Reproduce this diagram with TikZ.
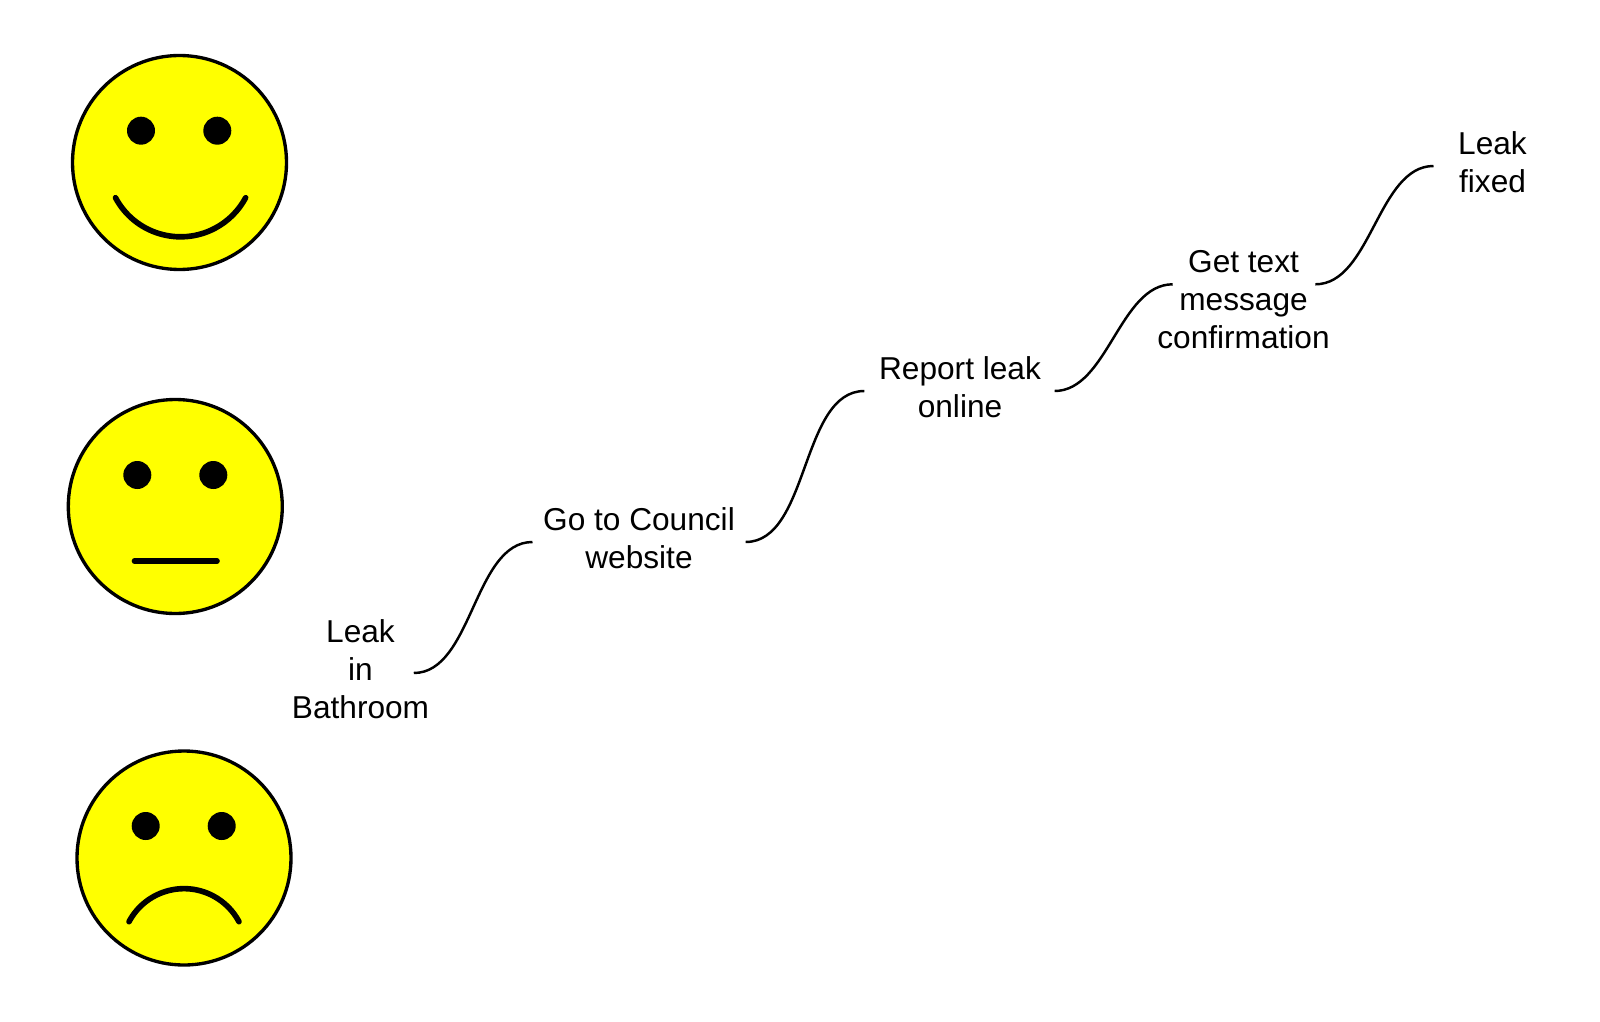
\documentclass[tikz,border=0pt]{standalone}
\usepackage{fontspec}
\setmainfont{Liberation Sans}
\definecolor{smiley}{RGB}{255,255,0}
\tikzset{
  face/.style={draw=black,fill=smiley,line width=0.95pt},
  eye/.style={fill=black},
  mouth/.style={line width=1.6pt,line cap=round},
  stepnode/.style={align=center,inner sep=0pt,font=\fontsize{9}{10.75}\selectfont},
  link/.style={line width=0.7pt,line cap=butt}
}
\begin{document}
\begin{tikzpicture}[line cap=round,line join=round]
  \useasboundingbox (0,0) rectangle (16,10.21);
  % happy
  \fill[face] (1.795,8.585) circle (1.07);
  \fill[eye] (1.41,8.903) circle (0.14);
  \fill[eye] (2.173,8.903) circle (0.14);
  \draw[mouth] (1.155,8.233) arc[start angle=208,end angle=332,radius=0.737];
  % neutral
  \fill[face] (1.753,5.145) circle (1.07);
  \fill[eye] (1.373,5.46) circle (0.14);
  \fill[eye] (2.133,5.46) circle (0.14);
  \draw[mouth] (1.345,4.6)--(2.17,4.6);
  % sad
  \fill[face] (1.84,1.63) circle (1.07);
  \fill[eye] (1.457,1.95) circle (0.14);
  \fill[eye] (2.217,1.95) circle (0.14);
  \draw[mouth] (1.29,0.993) arc[start angle=152,end angle=28,radius=0.623];
  % steps
  \node[stepnode] (leak) at (3.605,3.52) {Leak\\in\\Bathroom};
  \node[stepnode] (council) at (6.39,4.83) {Go to Council\\website};
  \node[stepnode] (report) at (9.6,6.34) {Report leak\\online};
  \node[stepnode] (sms) at (12.435,7.212) {Get text\\message\\confirmation};
  \node[stepnode] (fixed) at (14.925,8.59) {Leak\\fixed};
  \coordinate (leakout) at ([xshift=-0.16cm,yshift=-0.04cm]leak.east);
  \coordinate (councilin) at ([xshift=-0.10cm,yshift=-0.04cm]council.west);
  \coordinate (councilout) at ([xshift=0.10cm,yshift=-0.04cm]council.east);
  \coordinate (reportin) at ([xshift=-0.14cm,yshift=-0.04cm]report.west);
  \coordinate (reportout) at ([xshift=0.13cm,yshift=-0.04cm]report.east);
  \coordinate (smsin) at ([xshift=0.16cm,yshift=0.155cm]sms.west);
  \coordinate (smsout) at ([xshift=-0.15cm,yshift=0.155cm]sms.east);
  \coordinate (fixedin) at ([xshift=-0.24cm,yshift=-0.04cm]fixed.west);
  \draw[link] (leakout) to[out=0,in=180,looseness=0.85] (councilin);
  \draw[link] (councilout) to[out=0,in=180,looseness=0.85] (reportin);
  \draw[link] (reportout) to[out=0,in=180,looseness=0.85] (smsin);
  \draw[link] (smsout) to[out=0,in=180,looseness=0.85] (fixedin);
\end{tikzpicture}
\end{document}
